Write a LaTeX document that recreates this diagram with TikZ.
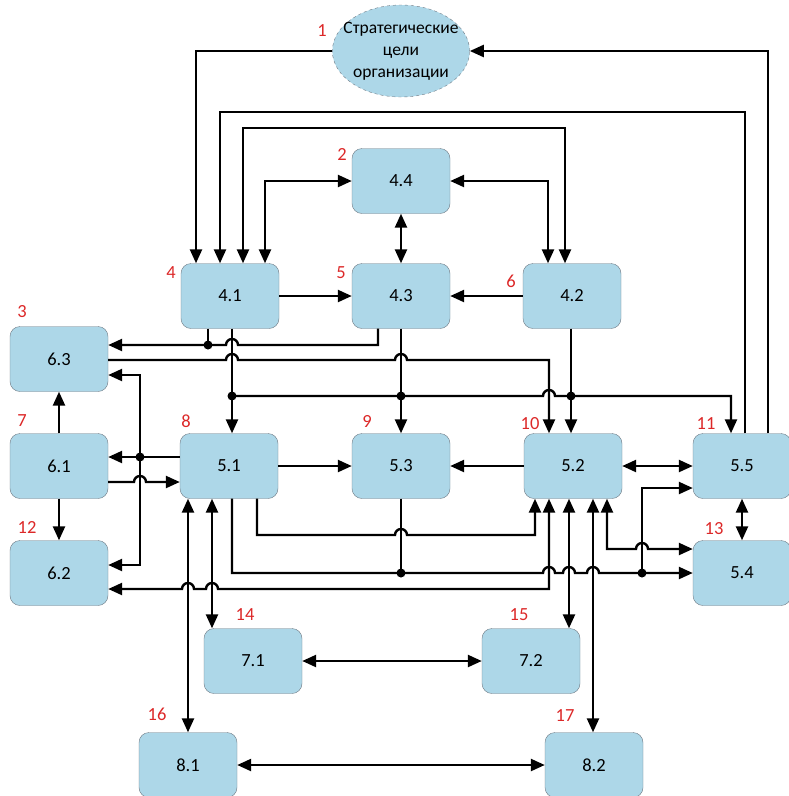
\documentclass[tikz,border=0pt]{standalone}
\usepackage{fontspec}
\setmainfont{Carlito}
\usetikzlibrary{arrows.meta,shapes.geometric}
\definecolor{boxfill}{RGB}{173,215,232}
\definecolor{boxline}{RGB}{110,120,130}
\definecolor{numred}{RGB}{220,40,40}
\tikzset{
  blk/.style={draw=boxline, thin, fill=boxfill, rounded corners=10pt,
    minimum width=98pt, minimum height=65pt, inner sep=0pt, font=\fontsize{18.5}{22}\selectfont},
  goal/.style={ellipse, draw=boxline, thin, dashed, fill=boxfill, minimum width=137pt,
    minimum height=92pt, inner xsep=-9pt, inner ysep=-2pt, align=center, font=\fontsize{17.5}{22}\selectfont},
  num/.style={text=numred, font=\fontsize{18.5}{22}\selectfont, inner sep=0pt},
  ln/.style={line width=2.4pt, black},
  arr/.style={ln, -{Triangle[length=14pt,width=12pt]}},
  arrb/.style={ln, {Triangle[length=14pt,width=12pt]}-{Triangle[length=14pt,width=12pt]}},
  dotc/.style={circle, fill=black, inner sep=0pt, minimum size=9pt}
}
\newcommand{\hopR}{arc[start angle=180,end angle=360,radius=6]}
\newcommand{\hopL}{arc[start angle=0,end angle=-180,radius=6]}
\begin{document}
\begin{tikzpicture}[x=1pt,y=-1pt]
\useasboundingbox (0,0) rectangle (789,796);
% nodes
\node[goal] (e1) at (401,51) {Стратегические\\цели\\организации};
\node[blk] (n44) at (401,181) {4.4};
\node[blk] (n41) at (230,296) {4.1};
\node[blk] (n43) at (401,296) {4.3};
\node[blk] (n42) at (572,296) {4.2};
\node[blk] (n63) at (59,359) {6.3};
\node[blk] (n61) at (59,466) {6.1};
\node[blk] (n62) at (59,573) {6.2};
\node[blk] (n51) at (229,466) {5.1};
\node[blk] (n53) at (401,466) {5.3};
\node[blk] (n52) at (573,466) {5.2};
\node[blk] (n55) at (742,466) {5.5};
\node[blk] (n54) at (742,573) {5.4};
\node[blk] (n71) at (253,661) {7.1};
\node[blk] (n72) at (531,661) {7.2};
\node[blk] (n81) at (188,765) {8.1};
\node[blk] (n82) at (594,765) {8.2};
% numbers
\node[num] (l1) at (322,31) {1};
\node[num] (l2) at (342,154) {2};
\node[num] (l3) at (22,312) {3};
\node[num] (l4) at (171,273) {4};
\node[num] (l5) at (341,273) {5};
\node[num] (l6) at (511,281) {6};
\node[num] (l7) at (22,421) {7};
\node[num] (l8) at (186,421) {8};
\node[num] (l9) at (367,421) {9};
\node[num] (l10) at (530,424) {10};
\node[num] (l11) at (706,424) {11};
\node[num] (l12) at (27,527) {12};
\node[num] (l13) at (714,529) {13};
\node[num] (l14) at (245,615) {14};
\node[num] (l15) at (519,615) {15};
\node[num] (l16) at (157,714) {16};
\node[num] (l17) at (565,716) {17};
% top connectors
\draw[arr] (e1.west) -| (n41.north -| 196,0);
\draw[arr] (n55.north -| 768,0) |- (e1.east);
\draw[arr] (n55.north -| 745,0) -- (745,112) -- (220,112) -- (n41.north -| 220,0);
\draw[arrb] (n41.north -| 243,0) -- (243,128) -- (565,128) -- (n42.north -| 565,0);
\draw[arrb] (n44.west) -| (n41.north -| 265,0);
\draw[arrb] (n44.east) -| (n42.north -| 548,0);
\draw[arrb] (n44.south) -- (n43.north);
\draw[arr] (n41.east) -- (n43.west);
\draw[arr] (n42.west) -- (n43.east);
% 4.x to 6.3 and 5.x
\draw[arr] (n43.south -| 378,0) -- (378,345) -- (238,345) \hopL -- (n63.east |- 0,345);
\draw[ln] (n41.south -| 208,0) -- (208,345);
\node[dotc] (d1) at (208,345) {};
\draw[arr] (n63.east |- 0,360) -- (226,360) \hopR -- (395,360) \hopR -- (549,360) -- (n52.north -| 549,0);
\draw[arr] (n41.south -| 232,0) -- (n51.north -| 232,0);
\draw[arr] (232,396) -- (543,396) \hopR -- (731,396) -- (n55.north -| 731,0);
\draw[arr] (n43.south) -- (n53.north);
\draw[arr] (n42.south -| 571,0) -- (n52.north -| 571,0);
\node[dotc] (d2) at (232,396) {};
\node[dotc] (d3) at (401,396) {};
\node[dotc] (d4) at (571,396) {};
% left group
\draw[arr] (n61.north) -- (n63.south);
\draw[arr] (n61.south) -- (n62.north);
\draw[arr] (n51.west |- 0,457) -- (n61.east |- 0,457);
\node[dotc] (d5) at (140,457) {};
\draw[arr] (140,457) -- (140,375) -- (n63.east |- 0,375);
\draw[arr] (140,457) -- (140,565) -- (n62.east |- 0,565);
\draw[arr] (n61.east |- 0,482) -- (134,482) \hopR -- (n51.west |- 0,482);
% 5.1 bottom
\draw[arrb] (n51.south -| 188,0) -- (n81.north -| 188,0);
\draw[arrb] (n51.south -| 212,0) -- (n71.north -| 212,0);
\draw[arr] (n51.south -| 257,0) -- (257,535) -- (395,535) \hopR -- (535,535) -- (n52.south -| 535,0);
\draw[arr] (n51.south -| 232,0) -- (232,573) -- (543,573) \hopR -- (563,573) \hopR -- (587,573) \hopR -- (n54.west |- 0,573);
\draw[ln] (n53.south) -- (401,573);
\node[dotc] (d6) at (401,573) {};
\draw[arr] (642,573) -- (642,488) -- (n55.west |- 0,488);
\node[dotc] (d7) at (642,573) {};
\draw[arrb] (n52.south -| 549,0) -- (549,589) -- (218,589) \hopL -- (194,589) \hopL -- (n62.east |- 0,589);
% 5.2 bottom and right
\draw[arrb] (n52.south -| 569,0) -- (n72.north -| 569,0);
\draw[arrb] (n52.south -| 593,0) -- (n82.north -| 593,0);
\draw[arrb] (n52.south -| 607,0) -- (607,549) -- (636,549) \hopR -- (n54.west |- 0,549);
\draw[arrb] (n52.east) -- (n55.west);
\draw[arrb] (n55.south) -- (n54.north);
\draw[arr] (n51.east) -- (n53.west);
\draw[arr] (n52.west) -- (n53.east);
\draw[arrb] (n71.east) -- (n72.west);
\draw[arrb] (n81.east) -- (n82.west);
\end{tikzpicture}
\end{document}
